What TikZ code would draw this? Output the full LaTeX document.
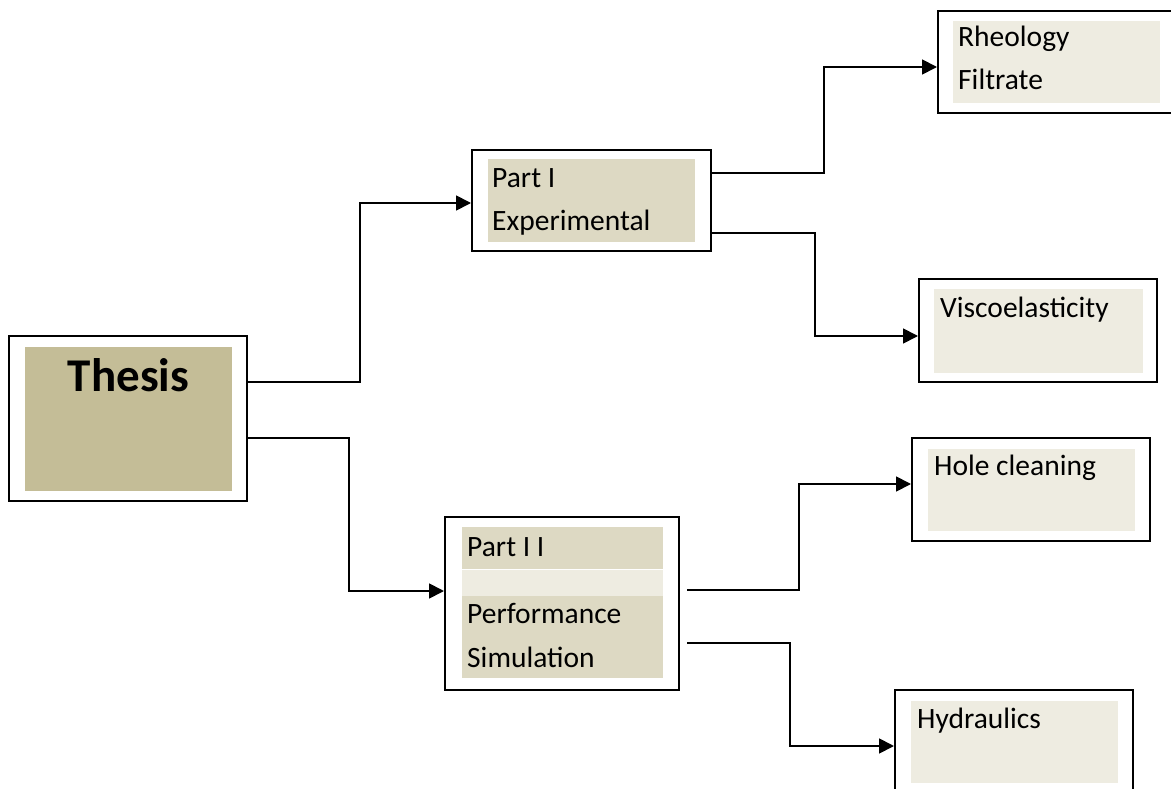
\documentclass[tikz,border=0pt]{standalone}
\usepackage{fontspec}
\setmainfont{Carlito}
\usetikzlibrary{arrows.meta}
\definecolor{tandeep}{HTML}{C4BD97}
\definecolor{tanmid}{HTML}{DDD9C3}
\definecolor{tanlight}{HTML}{EEECE1}
\tikzset{
  frame/.style={
    rectangle, draw=black, line width=2pt, inner sep=0pt,
    minimum width=238pt, minimum height=103pt
  },
  panel/.style={rectangle, inner sep=0pt, minimum width=207pt, minimum height=82pt},
  label/.style={anchor=base west, inner sep=0pt, font=\fontsize{29.5}{36}\selectfont},
  title/.style={anchor=base, inner sep=0pt, font=\fontsize{47}{56}\selectfont\bfseries},
  link/.style={-{Triangle[length=15pt,width=15pt]}, line width=1.8pt}
}
\begin{document}
\begin{tikzpicture}[x=1pt, y=-1pt]
    \clip (0,0) rectangle (1171,789);
    % boxes
    \node[frame, minimum height=165pt] (thesis) at (128,418.5) {};
    \node[frame, minimum width=239pt, minimum height=101pt] (partone) at (591.5,200.5) {};
    \node[frame, minimum width=234pt, minimum height=173pt] (parttwo) at (562,603.5) {};
    \node[frame, minimum height=102pt] (rheology) at (1057,62) {};
    \node[frame] (visco) at (1038,330.5) {};
    \node[frame] (hole) at (1031,489.5) {};
    \node[frame] (hydraulics) at (1014,741.5) {};
    % shaded panels
    \node[panel, fill=tandeep, minimum height=144pt] (thesispanel) at (thesis) {};
    \node[panel, fill=tanmid] (partonepanel) at (partone) {};
    \node[panel, fill=tanmid, minimum width=201pt, minimum height=42pt, anchor=north] (parttwoa) at ([yshift=-11pt]parttwo.north) {};
    \node[panel, fill=tanlight, minimum width=201pt, minimum height=26pt, anchor=north] (parttwob) at (parttwoa.south) {};
    \node[panel, fill=tanmid, minimum width=201pt, anchor=north] (parttwoc) at (parttwob.south) {};
    \node[panel, fill=tanlight] (rheologypanel) at ([xshift=-0.5pt]rheology) {};
    \node[panel, fill=tanlight, minimum width=209pt, minimum height=84pt] (viscopanel) at (visco) {};
    \node[panel, fill=tanlight] (holepanel) at (hole) {};
    \node[panel, fill=tanlight] (hydraulicspanel) at (hydraulics) {};
    % texts
    \node[title] (thesistext) at (128.5,391) {Thesis};
    \node[label] (partonea) at (492,188) {Part I};
    \node[label] (partoneb) at (492,230) {Experimental};
    \node[label] (parttwotext) at (467,556) {Part I I};
    \node[label] (perftext) at (467,623) {Performance};
    \node[label] (simtext) at (467,667) {Simulation};
    \node[label] (rheologytext) at (958,47) {Rheology};
    \node[label] (filtratetext) at (958,90) {Filtrate};
    \node[label] (viscotext) at (940,317) {Viscoelasticity};
    \node[label] (holetext) at (934,475) {Hole cleaning};
    \node[label] (hydraulicstext) at (917,728) {Hydraulics};
    % connectors
    \coordinate (parttwoout) at ([xshift=7pt]parttwo.east);
    \draw[link] (thesis.east |- 0,382) -| (360,203) -- (partone.west |- 0,203);
    \draw[link] (thesis.east |- 0,438) -| (349,591) -- (parttwo.west |- 0,591);
    \draw[link] (partone.east |- 0,173) -| (824,67) -- (rheology.west |- 0,67);
    \draw[link] (partone.east |- 0,233) -| (815,336) -- (visco.west |- 0,336);
    \draw[link] (parttwoout |- 0,590) -| (799,484) -- (hole.west |- 0,484);
    \draw[link] (parttwoout |- 0,643) -| (790,746) -- (hydraulics.west |- 0,746);
\end{tikzpicture}
\end{document}
